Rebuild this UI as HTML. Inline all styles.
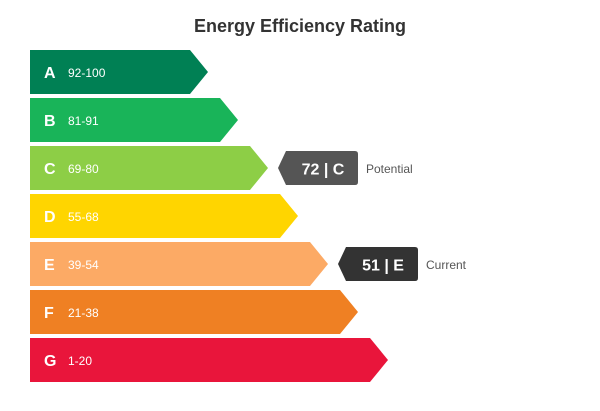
<!DOCTYPE html>
<html><head><style>
body{margin:0;background:#fff;width:600px;height:406px;overflow:hidden;font-family:"Liberation Sans",sans-serif}
</style></head><body>
<svg width="600" height="406" xmlns="http://www.w3.org/2000/svg" font-family="Liberation Sans, sans-serif">
<text x="300" y="32" text-anchor="middle" font-size="18" font-weight="bold" fill="#333">Energy Efficiency Rating</text>
<g>
<polygon points="30,50 190,50 208,72 190,94 30,94" fill="#008054"/>
<polygon points="30,98 220,98 238,120 220,142 30,142" fill="#19b459"/>
<polygon points="30,146 250,146 268,168 250,190 30,190" fill="#8dce46"/>
<polygon points="30,194 280,194 298,216 280,238 30,238" fill="#ffd500"/>
<polygon points="30,242 310,242 328,264 310,286 30,286" fill="#fcaa65"/>
<polygon points="30,290 340,290 358,312 340,334 30,334" fill="#ef8023"/>
<polygon points="30,338 370,338 388,360 370,382 30,382" fill="#e9153b"/>
</g>
<g fill="#fff" font-size="16" font-weight="bold">
<text x="44" y="78">A</text><text x="44" y="126">B</text><text x="44" y="174">C</text><text x="44" y="222">D</text><text x="44" y="270">E</text><text x="44" y="318">F</text><text x="44" y="366">G</text>
</g>
<g fill="#fff" font-size="12">
<text x="68" y="77">92-100</text><text x="68" y="125">81-91</text><text x="68" y="173">69-80</text><text x="68" y="221">55-68</text><text x="68" y="269">39-54</text><text x="68" y="317">21-38</text><text x="68" y="365">1-20</text>
</g>
<path d="M278,168 L286,151 L355,151 Q358,151 358,154 L358,182 Q358,185 355,185 L286,185 Z" fill="#555"/>
<text x="323" y="174.5" text-anchor="middle" fill="#fff" font-size="16" font-weight="bold">72 | C</text>
<text x="366" y="173" fill="#555" font-size="12">Potential</text>
<path d="M338,264 L346,247 L415,247 Q418,247 418,250 L418,278 Q418,281 415,281 L346,281 Z" fill="#333"/>
<text x="383" y="270.5" text-anchor="middle" fill="#fff" font-size="16" font-weight="bold">51 | E</text>
<text x="426" y="269" fill="#555" font-size="12">Current</text>
</svg>
</body></html>
